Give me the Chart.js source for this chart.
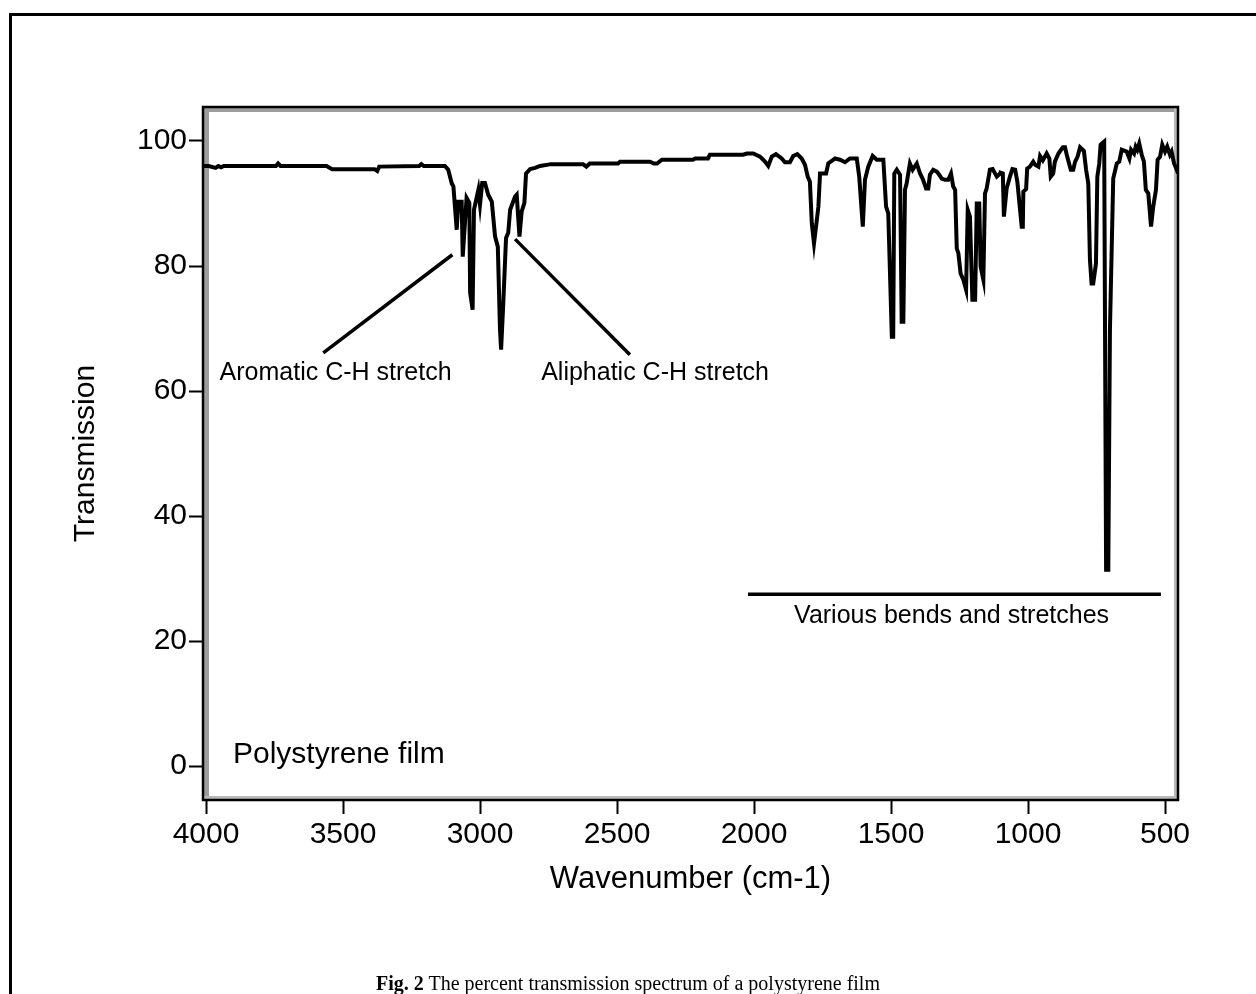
<!DOCTYPE html>
<html>
<head>
<meta charset="utf-8">
<script src="https://cdn.jsdelivr.net/npm/chart.js@4/dist/chart.umd.min.js"></script>
<style>
html,body{margin:0;padding:0;background:#fff;overflow:hidden;width:1256px;height:994px;}
#frame{position:absolute;left:9px;top:13px;width:1400px;height:1200px;border-top:3px solid #000;border-left:3px solid #000;box-sizing:border-box;}
#wrap{position:absolute;left:0;top:0;width:1256px;height:994px;}
#caption{position:absolute;left:0;top:973px;width:1256px;text-align:center;font-family:"Liberation Serif","Times New Roman",serif;font-size:20px;line-height:20px;color:#000;white-space:nowrap;}
</style>
</head>
<body>
<div id="frame"></div>
<div id="wrap"><canvas id="c" width="1256" height="994"></canvas></div>
<div id="caption"><b>Fig. 2</b> The percent transmission spectrum of a polystyrene film</div>
<script>
// ---- data ----
const wavenumbers = [
 4011,3990,3965,3955,3945,3935,3745,3737,3728,3560,3540,3385,3375,3368,3222,3214,3205,3128,
 3116,3103,3097,3085,3079,3067,3063,3049,3039,3036,3027,3022,3006,3000,2992,2982,2970,2957,
 2945,2935,2927,2923,2915,2905,2897,2890,2872,2866,2856,2848,2838,2832,2817,2799,2781,2741,
 2624,2612,2599,2496,2489,2380,2365,2354,2336,2223,2215,2168,2161,2040,2026,2003,1978,1960,
 1948,1935,1920,1899,1887,1869,1857,1842,1826,1814,1804,1796,1789,1781,1765,1759,1737,1729,
 1704,1686,1668,1650,1625,1616,1603,1595,1583,1567,1552,1528,1518,1510,1497,1492,1488,1479,
 1467,1461,1455,1449,1443,1431,1421,1406,1394,1384,1372,1364,1358,1346,1333,1324,1315,1303,
 1291,1281,1273,1266,1260,1254,1246,1236,1226,1220,1212,1203,1193,1187,1178,1173,1163,1157,
 1151,1139,1129,1114,1102,1099,1092,1088,1078,1066,1057,1047,1039,1029,1023,1019,1017,1007,
 1003,993,981,974,962,956,946,932,922,917,908,902,889,873,865,857,844,835,828,819,810,796,
 788,780,774,768,762,752,747,740,735,722,715,707,701,689,676,667,658,640,630,624,613,607,
 601,594,585,577,570,561,551,543,533,527,518,510,500,492,482,476,467,457,452
];
const transmission = [
 96.0,96.0,95.7,96.0,95.8,96.0,96.0,96.4,96.0,96.0,95.5,95.5,95.2,95.9,96.0,96.3,96.0,96.0,
 95.4,93.2,92.7,85.8,90.3,90.3,81.5,90.9,90.1,75.7,73.0,89.0,92.2,89.8,93.3,93.3,91.4,90.3,
 84.7,83.1,69.8,66.6,74.1,84.5,85.3,89.0,91.1,91.4,84.7,88.7,90.1,94.8,95.5,95.7,96.0,96.3,
 96.3,95.9,96.4,96.4,96.7,96.7,96.4,96.4,97.0,97.0,97.2,97.2,97.8,97.8,98.0,98.0,97.5,96.7,
 96.0,97.5,97.9,97.2,96.6,96.6,97.6,97.9,97.2,96.2,94.3,93.5,86.8,83.6,89.5,94.8,94.8,96.4,
 97.2,97.0,96.6,97.2,97.2,94.3,86.3,93.8,95.9,97.6,97.0,97.0,89.5,88.4,68.7,68.7,94.8,95.4,
 94.6,71.1,71.1,92.2,93.2,96.4,95.4,96.4,94.8,93.9,92.4,92.4,94.6,95.4,95.1,94.6,94.0,93.8,
 93.8,94.8,92.7,92.2,82.8,82.0,78.8,77.8,76.2,89.0,87.9,74.6,74.6,90.0,90.0,79.9,77.8,91.6,
 92.4,95.4,95.5,94.3,94.8,94.9,94.8,87.9,92.4,94.3,95.5,95.4,93.5,89.0,86.3,86.3,91.9,92.3,
 95.6,95.9,96.7,96.2,95.9,97.6,96.9,98.0,97.2,94.3,94.8,96.7,98.0,99.0,99.0,97.5,95.4,95.4,96.7,97.5,99.0,98.4,
 95.4,93.2,81.0,77.2,77.2,80.4,94.3,96.4,99.4,99.9,31.4,31.4,69.8,94.0,96.4,96.7,98.6,98.3,97.2,98.6,98.0,99.1,
 98.6,99.6,97.8,96.7,92.2,91.6,86.3,89.5,92.2,97.0,97.5,99.4,98.3,99.1,97.8,98.3,96.4,95.4,94.8
];
const xTickValues = [4000,3500,3000,2500,2000,1500,1000,500];
const yTickValues = [0,20,40,60,80,100];
const xTitle = 'Wavenumber (cm-1)';
const yTitle = 'Transmission';

// annotation lines (wavenumber, transmission endpoints)
const annotationLines = [
  [[3572,66.1],[3101,81.8]],
  [[2872,84.3],[2453,65.8]],
  [[2022,27.5],[515,27.5]]
];
// annotation labels: text, wavenumber, transmission (baseline), alignment, size
const annotationLabels = [
  ['Aromatic C-H stretch',3527,61.76,'center',25],
  ['Aliphatic C-H stretch',2361,61.76,'center',25],
  ['Various bends and stretches',1279,22.9,'center',25],
  ['Polystyrene film',3901.5,0.55,'left',30]
];

const FONT = '"Liberation Sans", Arial, sans-serif';
const points = wavenumbers.map((w,i)=>({x:w,y:transmission[i]}));

const framePlugin = {
  id:'frame',
  beforeDatasetsDraw(chart){
    const {ctx} = chart; const {left,top,right,bottom} = chart.chartArea;
    ctx.save();
    ctx.fillStyle = '#9c9c9c';
    ctx.fillRect(left, top, right-left, 5);
    ctx.fillRect(left, top, 6, bottom-top);
    ctx.fillStyle = '#b8b8b8';
    ctx.fillRect(right-4, top, 4, bottom-top);
    ctx.fillRect(left, bottom-4, right-left, 4);
    ctx.strokeStyle = '#000'; ctx.lineWidth = 2.5;
    ctx.strokeRect(left, top, right-left, bottom-top);
    ctx.restore();
  }
};

const annotPlugin = {
  id:'annot',
  afterDatasetsDraw(chart){
    const {ctx} = chart; const xs = chart.scales.x, ys = chart.scales.y;
    ctx.save();
    ctx.strokeStyle = '#000'; ctx.lineWidth = 3.5; ctx.lineCap = 'butt';
    annotationLines.forEach(l=>{
      ctx.beginPath();
      ctx.moveTo(xs.getPixelForValue(l[0][0]), ys.getPixelForValue(l[0][1]));
      ctx.lineTo(xs.getPixelForValue(l[1][0]), ys.getPixelForValue(l[1][1]));
      ctx.stroke();
    });
    ctx.fillStyle = '#000'; ctx.textBaseline = 'alphabetic';
    annotationLabels.forEach(a=>{
      ctx.font = a[4] + 'px ' + FONT;
      ctx.textAlign = a[3];
      ctx.fillText(a[0], xs.getPixelForValue(a[1]), ys.getPixelForValue(a[2]));
    });
    ctx.restore();
  }
};

new Chart(document.getElementById('c'), {
  type:'line',
  data:{datasets:[{data:points,borderColor:'#000',borderWidth:4,pointRadius:0,tension:0,fill:false,borderJoinStyle:'miter'}]},
  options:{
    responsive:false, animation:false, devicePixelRatio:1,
    layout:{padding:{left:0,top:107,right:78,bottom:0}},
    plugins:{legend:{display:false},tooltip:{enabled:false}},
    scales:{
      x:{
        type:'linear', reverse:true, min:452.6, max:4010.95,
        afterFit:s=>{s.height=194;},
        afterBuildTicks:s=>{s.ticks = xTickValues.map(v=>({value:v}));},
        grid:{display:true,drawOnChartArea:false,drawTicks:true,tickLength:14,tickWidth:2,tickColor:'#000'},
        border:{display:false},
        ticks:{color:'#000',font:{family:FONT,size:30},padding:3,maxRotation:0,autoSkip:false,callback:v=>String(v)},
        title:{display:true,text:xTitle,color:'#000',font:{family:FONT,size:31},padding:{top:0,bottom:96}}
      },
      y:{
        type:'linear', min:-5.44, max:105.44,
        afterFit:s=>{s.width=203;},
        afterBuildTicks:s=>{s.ticks = yTickValues.map(v=>({value:v}));},
        grid:{display:true,drawOnChartArea:false,drawTicks:true,tickLength:14,tickWidth:2,tickColor:'#000'},
        border:{display:false},
        ticks:{color:'#000',font:{family:FONT,size:30},padding:2,autoSkip:false,callback:v=>String(v)},
        title:{display:true,text:yTitle,color:'#000',font:{family:FONT,size:30},padding:{top:68,bottom:0}}
      }
    }
  },
  plugins:[framePlugin, annotPlugin]
});
</script>
</body>
</html>
